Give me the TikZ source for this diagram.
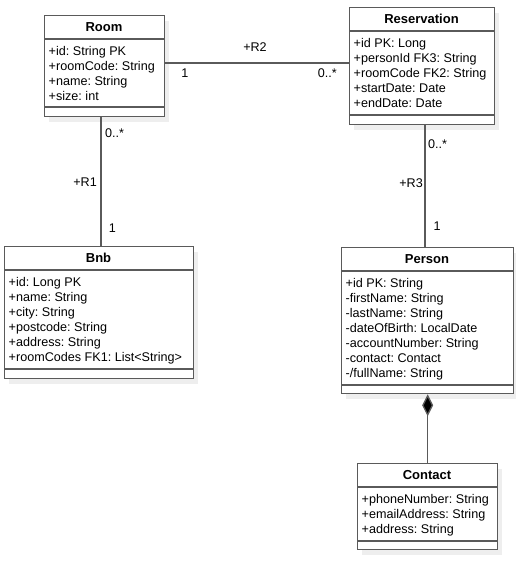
\documentclass[tikz,border=0pt]{standalone}
\usepackage{fontspec}
\setmainfont{Liberation Sans}
\usetikzlibrary{arrows.meta}
\frenchspacing

\definecolor{edge}{HTML}{5A5A5A}
\definecolor{shade}{HTML}{EEEEEE}

\tikzset{
  classbox/.style={draw=edge, line width=1.3pt, fill=white, inner sep=0pt, anchor=north west},
  sepline/.style={draw=edge, line width=1.3pt},
  shadowbox/.style={fill=shade},
  classtitle/.style={font=\bfseries\fontsize{13}{15}\selectfont, inner sep=0pt},
  attr/.style={font=\fontsize{12.6}{15}\selectfont, anchor=west, inner sep=0pt,
    text height=9pt, text depth=1pt},
  lbl/.style={font=\fontsize{12.6}{15}\selectfont, inner sep=0pt,
    text height=9pt, text depth=1pt},
  link/.style={draw=edge, line width=1.3pt},
}

% attribute lines of a class: x, centre of first line, name prefix, list
\newcommand\attrlist[4]{%
  \foreach \t [count=\i from 0] in {#4}
    \node[attr] (#3-\i) at (#1, #2+15*\i) {\t};}

% class frame: name, left, right, top, header bottom, attributes bottom, bottom
\newcommand\classframe[7]{%
  \fill[shadowbox] (#2+5,#4+6) rectangle (#3+5,#7+6);
  \node[classbox, minimum width=#3-#2, minimum height=#7-#4] (#1) at (#2,#4) {};
  \draw[sepline] (#2,#5) -- (#3,#5);
  \draw[sepline] (#2,#6) -- (#3,#6);}

\begin{document}
\begin{tikzpicture}[x=1pt, y=-1pt]
  \useasboundingbox (0,0) rectangle (516,565);

  % Room
  \classframe{room}{44}{164}{15}{39}{107}{116}
  \node[classtitle] (room-title) at (104,27) {Room};
  \attrlist{48.5}{51}{room}{+id: String PK,+roomCode: String,+name: String,+size: int}

  % Reservation
  \classframe{reservation}{349}{494}{7}{31}{115}{124}
  \node[classtitle] (reservation-title) at (421.5,19) {Reservation};
  \attrlist{353.5}{43}{res}{+id PK: Long,+personId FK3: String,+roomCode FK2: String,+startDate: Date,+endDate: Date}

  % Bnb
  \classframe{bnb}{4}{193}{246}{270}{369}{378}
  \node[classtitle] (bnb-title) at (98.5,258) {Bnb};
  \attrlist{8.5}{282}{bnb}{+id: Long PK,+name: String,+city: String,+postcode: String,+address: String,+roomCodes FK1: List<String>}

  % Person
  \classframe{person}{341}{513}{247}{271}{385}{393}
  \node[classtitle] (person-title) at (427,259) {Person};
  \attrlist{345.5}{283}{person}{+id PK: String,-firstName: String,-lastName: String,-dateOfBirth: LocalDate,-accountNumber: String,-contact: Contact,-/fullName: String}

  % Contact
  \classframe{contact}{357}{497}{463}{487}{541}{549}
  \node[classtitle] (contact-title) at (427,475) {Contact};
  \attrlist{361.5}{499}{contact}{+phoneNumber: String,+emailAddress: String,+address: String}

  % association routes
  \coordinate (r1x) at (101,0);
  \coordinate (r2y) at (0,63);
  \coordinate (r3x) at (425,0);

  % R1: Room -- Bnb
  \draw[link] (room.south -| r1x) -- (bnb.north -| r1x);
  \node[lbl, anchor=west] (r1-many) at (105,133) {0..*};
  \node[lbl, anchor=east] (r1-name) at (97,182) {+R1};
  \node[lbl] (r1-one) at (112.5,228) {1};

  % R2: Room -- Reservation
  \draw[link] (room.east |- r2y) -- (reservation.west |- r2y);
  \node[lbl] (r2-name) at (255,47) {+R2};
  \node[lbl] (r2-one) at (185,73) {1};
  \node[lbl, anchor=east] (r2-many) at (337,73) {0..*};

  % R3: Reservation -- Person
  \draw[link] (reservation.south -| r3x) -- (person.north -| r3x);
  \node[lbl, anchor=west] (r3-many) at (428,144) {0..*};
  \node[lbl, anchor=east] (r3-name) at (423,183) {+R3};
  \node[lbl] (r3-one) at (437,226) {1};

  % composition: Person owns Contact
  \draw[link, {Diamond[length=22pt, width=11pt, fill=black]}-] (person.south) -- (contact.north);
\end{tikzpicture}
\end{document}
